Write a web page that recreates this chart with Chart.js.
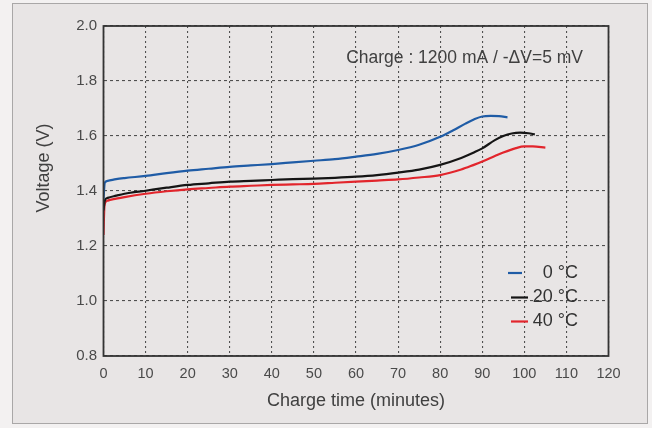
<!DOCTYPE html>
<html>
<head>
<meta charset="utf-8">
<script src="https://cdn.jsdelivr.net/npm/chart.js@4/dist/chart.umd.min.js"></script>
<style>
  html, body { margin: 0; padding: 0; background: #f3f1f1; }
  #wrap { position: relative; width: 652px; height: 428px; }
  #frame {
    position: absolute; left: 12px; top: 3px; width: 634px; height: 419px;
    background: #e8e5e5; border: 1.5px solid #a9a7a7;
  }
  #chart { position: absolute; left: 0; top: 0; }
</style>
</head>
<body>
<div id="wrap">
  <div id="frame"></div>
  <canvas id="chart" width="652" height="428"></canvas>
</div>
<script>
// Charge curves at three ambient temperatures
const seriesNames = ['0 °C', '20 °C', '40 °C'];
const seriesColors = ['#1f5ca6', '#151515', '#e2252c'];

const time0 = [0, 0.3, 1, 3, 5, 10, 15, 20, 25, 30, 35, 40, 45, 50, 55, 60, 65, 70, 75, 80, 83, 86, 88, 90, 92, 94, 96];
const volt0 = [1.37, 1.43, 1.437, 1.443, 1.447, 1.455, 1.465, 1.474, 1.481, 1.488, 1.493, 1.498, 1.504, 1.51, 1.516, 1.525, 1.535, 1.549, 1.568, 1.597, 1.62, 1.645, 1.66, 1.671, 1.673, 1.672, 1.668];

const time20 = [0, 0.3, 1, 3, 5, 10, 15, 20, 25, 30, 35, 40, 45, 50, 55, 60, 65, 70, 75, 80, 85, 88, 90, 93, 95, 97, 99, 101, 102.5];
const volt20 = [1.33, 1.365, 1.375, 1.383, 1.39, 1.401, 1.412, 1.422, 1.428, 1.434, 1.437, 1.44, 1.443, 1.445, 1.448, 1.452, 1.458, 1.467, 1.478, 1.495, 1.52, 1.54, 1.555, 1.585, 1.6, 1.609, 1.612, 1.61, 1.606];

const time40 = [0, 0.2, 0.5, 1, 3, 5, 10, 15, 20, 25, 30, 35, 40, 45, 50, 55, 60, 65, 70, 75, 80, 85, 88, 90, 93, 95, 98, 100, 102, 105];
const volt40 = [1.24, 1.34, 1.36, 1.365, 1.372, 1.378, 1.39, 1.399, 1.406, 1.411, 1.416, 1.419, 1.422, 1.424, 1.426, 1.43, 1.434, 1.438, 1.442, 1.449, 1.458, 1.478, 1.495, 1.507, 1.527, 1.54, 1.556, 1.562, 1.562, 1.558];

const xTicks = [0, 10, 20, 30, 40, 50, 60, 70, 80, 90, 100, 110, 120];
const yTicks = [0.8, 1.0, 1.2, 1.4, 1.6, 1.8, 2.0];
const noteText = 'Charge : 1200 mA / -ΔV=5 mV';

function toPoints(ts, vs) {
    return ts.map(function (t, i) { return { x: t, y: vs[i] }; });
}

const allSeries = [toPoints(time0, volt0), toPoints(time20, volt20), toPoints(time40, volt40)];

// frame, y title, note and legend drawn on top of the plot
const extras = {
    id: 'extras',
    afterDatasetsDraw(chart) {
        const ctx = chart.ctx;
        const a = chart.chartArea;
        ctx.save();
        ctx.strokeStyle = '#333';
        ctx.lineWidth = 1.8;
        ctx.strokeRect(a.left, a.top, a.right - a.left, a.bottom - a.top);

        ctx.fillStyle = '#404040';
        ctx.font = '17.5px "Liberation Sans", Arial, sans-serif';
        ctx.textAlign = 'right';
        ctx.textBaseline = 'middle';
        ctx.fillText(noteText, 583, 58);

        const rows = [273, 297.5, 321.5];
        ctx.font = '18px "Liberation Sans", Arial, sans-serif';
        seriesNames.forEach(function (name, i) {
            ctx.fillStyle = '#333';
            ctx.fillText(name, 578, rows[i]);
            ctx.strokeStyle = seriesColors[i];
            ctx.lineWidth = 2.2;
            ctx.beginPath();
            ctx.moveTo(i === 0 ? 508 : 511, rows[i]);
            ctx.lineTo(i === 0 ? 522 : 528, rows[i]);
            ctx.stroke();
        });

        ctx.translate(44, 168);
        ctx.rotate(-Math.PI / 2);
        ctx.textAlign = 'center';
        ctx.fillStyle = '#404040';
        ctx.fillText('Voltage (V)', 0, 0);
        ctx.restore();
    }
};

new Chart(document.getElementById('chart'), {
    type: 'line',
    data: {
        datasets: allSeries.map(function (pts, i) {
            return {
                label: seriesNames[i],
                data: pts,
                borderColor: seriesColors[i],
                borderWidth: 2.2,
                pointRadius: 0,
                cubicInterpolationMode: 'monotone',
                fill: false
            };
        })
    },
    options: {
        responsive: false,
        animation: false,
        layout: { padding: { left: 0, top: 26, right: 43.5, bottom: 0 } },
        plugins: {
            legend: { display: false },
            tooltip: { enabled: false }
        },
        scales: {
            x: {
                type: 'linear',
                min: 0,
                max: 120,
                afterFit: function (s) { s.height = 72; },
                afterBuildTicks: function (s) { s.ticks = xTicks.map(function (v) { return { value: v }; }); },
                ticks: {
                    padding: 9,
                    color: '#4a4a4a',
                    font: { family: '"Liberation Sans", Arial, sans-serif', size: 14.5 },
                    maxRotation: 0
                },
                grid: { color: '#505050', lineWidth: 1.1, drawTicks: false },
                border: { display: false, dash: [2, 3] },
                title: {
                    display: true,
                    text: 'Charge time (minutes)',
                    color: '#404040',
                    font: { family: '"Liberation Sans", Arial, sans-serif', size: 18 },
                    padding: { top: 0, bottom: 16 }
                }
            },
            y: {
                min: 0.8,
                max: 2.0,
                afterFit: function (s) { s.width = 103.5; },
                afterBuildTicks: function (s) { s.ticks = yTicks.map(function (v) { return { value: v }; }); },
                ticks: {
                    padding: 6.5,
                    color: '#4a4a4a',
                    font: { family: '"Liberation Sans", Arial, sans-serif', size: 15 },
                    callback: function (v) { return v.toFixed(1); }
                },
                grid: { color: '#505050', lineWidth: 1.1, drawTicks: false },
                border: { display: false, dash: [3, 3] }
            }
        }
    },
    plugins: [extras]
});
</script>
</body>
</html>
